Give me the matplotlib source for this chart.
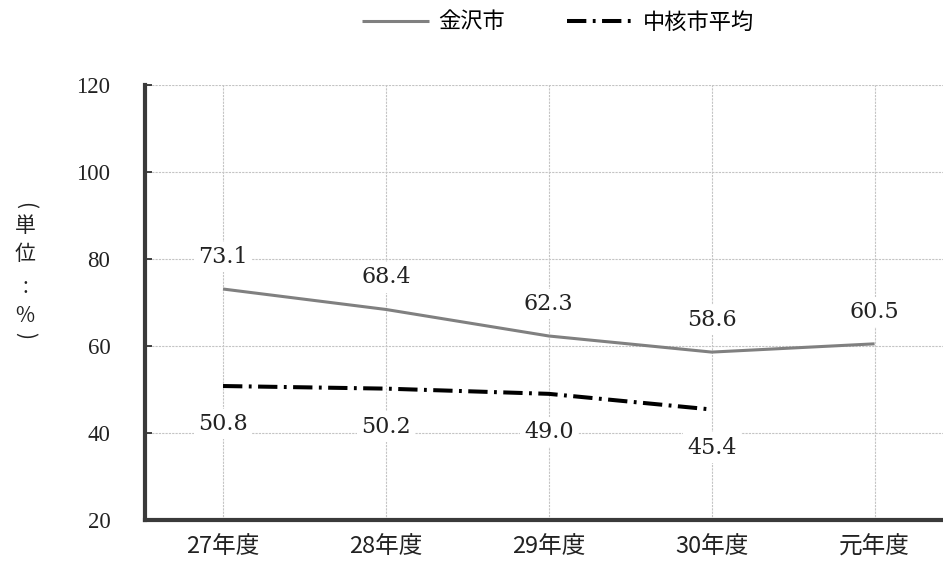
import matplotlib
matplotlib.use("Agg")
import matplotlib.pyplot as plt

categories = ["27年度", "28年度", "29年度", "30年度", "元年度"]
kanazawa = [73.1, 68.4, 62.3, 58.6, 60.5]
chukaku = [50.8, 50.2, 49.0, 45.4]
series_names = ["金沢市", "中核市平均"]
yticks = [20, 40, 60, 80, 100, 120]
ylabel_chars = ["(", "単", "位", ":", "%", ")"]

plt.rcParams['font.family'] = ['Liberation Serif', 'Noto Sans CJK JP', 'DejaVu Sans']

fig = plt.figure(figsize=(9.43, 5.64), dpi=100)
ax = fig.add_axes([145/943, 44/564, (943-145)/943, (520-85)/564])

x1 = list(range(len(kanazawa)))
x2 = list(range(len(chukaku)))
l1, = ax.plot(x1, kanazawa, color='#808080', lw=2.2, solid_capstyle='butt', zorder=3)
l2, = ax.plot(x2, chukaku, color='black', lw=2.9, dashes=(4.8, 1.6, 0.7, 1.6), zorder=3)

ax.set_xlim(-0.479, 4.42)
ax.set_ylim(20, 120)
ax.set_yticks(yticks)
ax.set_yticklabels([str(v) for v in yticks], fontsize=16.5, color='#222222')
ax.set_xticks(x1)
ax.set_xticklabels(categories, fontsize=17, family=['Noto Sans CJK JP'], color='#222222')
ax.grid(True, color='#c4c4c4', lw=0.8, ls=(0, (2, 1)))
ax.set_axisbelow(True)
for s in ['top', 'right']:
    ax.spines[s].set_visible(False)
for s in ['left', 'bottom']:
    ax.spines[s].set_linewidth(3)
    ax.spines[s].set_color('#3a3a3a')
ax.tick_params(axis='y', direction='in', length=5, width=1.2, pad=25, color='#222222')
ax.tick_params(axis='x', length=0, pad=11)

for xi, v in zip(x1, kanazawa):
    ax.annotate(f"{v:.1f}", (xi, v), xytext=(0, 32), textcoords='offset pixels',
                ha='center', va='center', fontsize=16, family=['DejaVu Serif'],
                color='#222222', zorder=4,
                bbox=dict(facecolor='white', edgecolor='none', pad=3))
for xi, v in zip(x2, chukaku):
    ax.annotate(f"{v:.1f}", (xi, v), xytext=(0, -38), textcoords='offset pixels',
                ha='center', va='center', fontsize=16, family=['DejaVu Serif'],
                color='#222222', zorder=4,
                bbox=dict(facecolor='white', edgecolor='none', pad=3))

# vertical y-axis unit label, one glyph per row
ylab_y = [206, 226, 254, 287, 316, 336]
ylab_rot = [-90, 0, 0, 0, 0, -90]
for ch, yy, rot in zip(ylabel_chars, ylab_y, ylab_rot):
    fig.text(25/943, 1 - yy/564, ch, ha='center', va='center', rotation=rot,
             fontsize=15, family=['Noto Sans CJK JP'], color='#222222')

fig.legend([l1, l2], series_names, loc='center', bbox_to_anchor=(558/943, 1 - 22/564),
           ncol=2, frameon=False, prop={'family': ['Noto Sans CJK JP'], 'size': 16},
           handlelength=3.0, columnspacing=2.8, handletextpad=0.4)

fig.savefig("out.png", dpi=100)
